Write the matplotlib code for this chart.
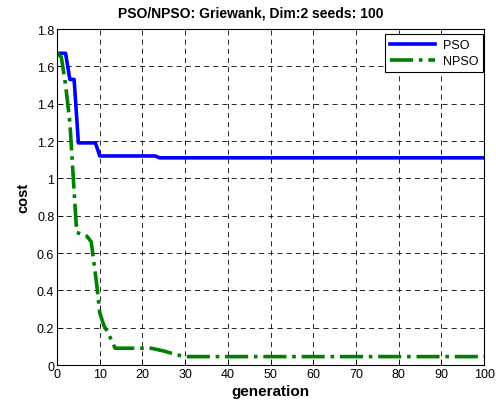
import matplotlib
matplotlib.use("Agg")
import matplotlib.pyplot as plt

plt.rcParams['font.family'] = ['Liberation Sans', 'DejaVu Sans']

# PSO best cost per generation (key points of the stepwise curve)
pso_gen = [0, 2, 3, 4, 5, 9, 10, 23, 24, 100]
pso_cost = [1.67, 1.67, 1.53, 1.53, 1.19, 1.19, 1.12, 1.12, 1.11, 1.11]

# NPSO best cost per generation
npso_gen = [0, 1, 2, 3, 4.6, 6, 7, 8, 9.3, 10, 11, 12, 13.6, 20, 22, 25, 28, 30, 100]
npso_cost = [1.67, 1.65, 1.5, 1.3, 0.71, 0.70, 0.69, 0.66, 0.43, 0.28, 0.21, 0.17, 0.09, 0.09, 0.09, 0.075, 0.055, 0.045, 0.045]

xticks = list(range(0, 101, 10))
yticks = [0, 0.2, 0.4, 0.6, 0.8, 1, 1.2, 1.4, 1.6, 1.8]
ytick_labels = ['0', '0.2', '0.4', '0.6', '0.8', '1', '1.2', '1.4', '1.6', '1.8']

fig = plt.figure(figsize=(4.96, 4.06), dpi=100)
ax = fig.add_axes([0.115, 0.0985, 0.861, 0.8275])

ax.plot(pso_gen, pso_cost, color='#0000ff', lw=2.6, label='PSO')
ax.plot(npso_gen, npso_cost, color='#008000', lw=2.6, linestyle='-.', label='NPSO')

ax.set_xlim(0, 100)
ax.set_ylim(0, 1.8)
ax.set_xticks(xticks)
ax.set_yticks(yticks)
ax.set_yticklabels(ytick_labels)
ax.tick_params(direction='in', length=4, labelsize=9, width=0.6, pad=2)
ax.grid(True, color='black', linestyle=(0, (6, 5)), linewidth=0.6)
for s in ax.spines.values():
    s.set_linewidth(0.8)

fig.text(0.505, 0.967, 'PSO/NPSO: Griewank, Dim:2 seeds: 100', fontsize=10,
         fontweight='bold', ha='center', va='center')
ax.set_xlabel('generation', fontsize=11, fontweight='bold', labelpad=3)
ax.set_ylabel('cost', fontsize=10.5, fontweight='bold', labelpad=5)

leg = ax.legend(loc='upper right', fontsize=9, fancybox=False, framealpha=1,
                edgecolor='black', handlelength=3.6, borderaxespad=0.0,
                bbox_to_anchor=(0.998, 0.985), borderpad=0.4, labelspacing=0.35,
                handletextpad=0.6)
leg.get_frame().set_linewidth(0.8)

fig.savefig('out.png', dpi=100)
